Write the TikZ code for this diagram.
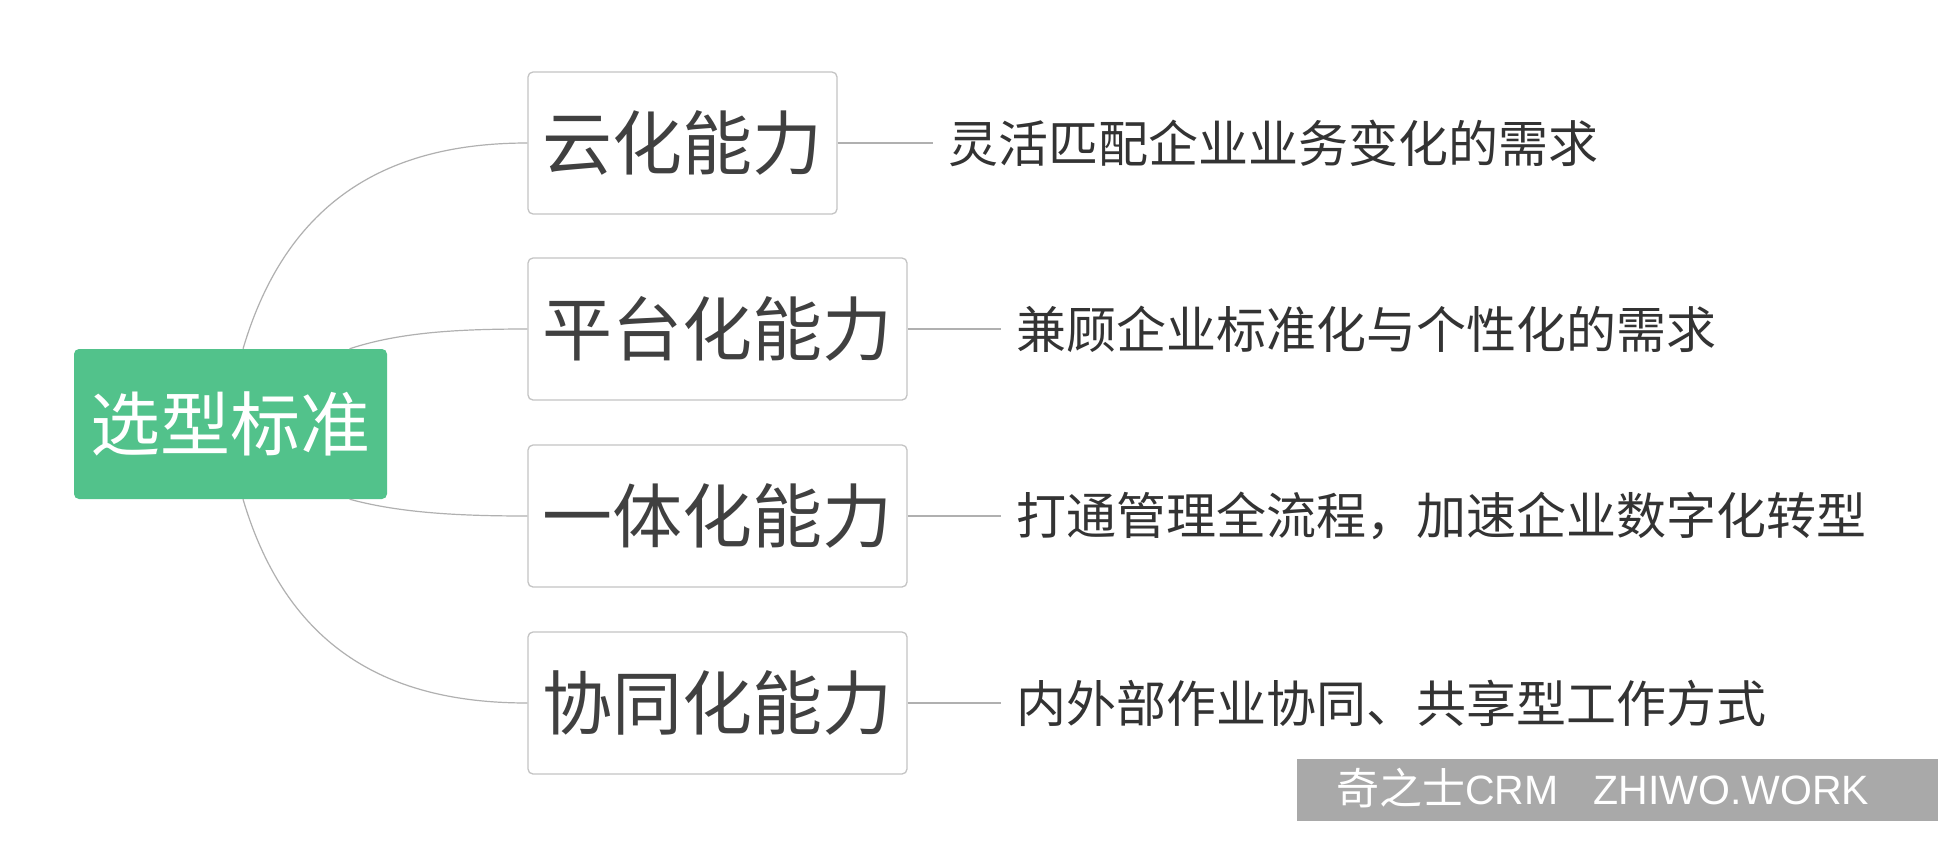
\documentclass[tikz,border=0pt]{standalone}
\usepackage{fontspec}
\usetikzlibrary{calc}
\setmainfont{Noto Sans CJK SC}
\newfontfamily\cjk{Noto Sans CJK SC}
\newfontfamily\wmlatin{Liberation Sans}
\begin{document}
\begin{tikzpicture}[x=1pt,y=-1pt,
  rootbox/.style={draw=none,fill=rootgreen,rounded corners=5pt,minimum width=313pt,minimum height=150pt,inner sep=0pt,text=white,font=\cjk\fontsize{70}{80}\selectfont},
  capbox/.style={draw=boxgray,line width=1.3pt,fill=white,rounded corners=5pt,minimum height=142pt,inner sep=0pt,text=labelgray,font=\cjk\fontsize{70}{80}\selectfont},
  desc/.style={anchor=west,inner xsep=15pt,inner ysep=0pt,text=desctext,font=\cjk\fontsize{50}{60}\selectfont},
  link/.style={draw=linegray,line width=1.2pt},
  wmark/.style={fill=markgray,draw=none}]
\definecolor{rootgreen}{HTML}{52C28B}
\definecolor{boxgray}{HTML}{C4C4C4}
\definecolor{labelgray}{HTML}{404040}
\definecolor{desctext}{HTML}{333333}
\definecolor{linegray}{HTML}{B0B0B0}
\definecolor{markgray}{HTML}{A9A9A9}
\useasboundingbox[fill=white] (0,0) rectangle (1938,844);

\node[rootbox] (root) at (230.5,424) {选型标准};
\node[capbox,minimum width=309pt] (b1) at (682.5,143) {云化能力};
\node[capbox,minimum width=379pt] (b2) at (717.5,329) {平台化能力};
\node[capbox,minimum width=379pt] (b3) at (717.5,516) {一体化能力};
\node[capbox,minimum width=379pt] (b4) at (717.5,703) {协同化能力};

\coordinate (s1) at ($(root.north west)!0.54!(root.north east)$);
\coordinate (s2) at ($(root.north west)!0.88!(root.north east)$);
\coordinate (s3) at ($(root.south west)!0.88!(root.south east)$);
\coordinate (s4) at ($(root.south west)!0.54!(root.south east)$);

\draw[link] (s1) .. controls (290,190) and (400,143) .. (b1.west);
\draw[link] (s2) .. controls (400,332) and (460,329) .. (b2.west);
\draw[link] (s3) .. controls (400,513) and (460,516) .. (b3.west);
\draw[link] (s4) .. controls (290,658) and (400,703) .. (b4.west);

\node[desc] (d1) at (933,143) {灵活匹配企业业务变化的需求};
\node[desc] (d2) at (1001,329) {兼顾企业标准化与个性化的需求};
\node[desc] (d3) at (1001,516) {打通管理全流程，加速企业数字化转型};
\node[desc] (d4) at (1001,703) {内外部作业协同、共享型工作方式};

\draw[link] (b1.east) -- (d1.west);
\draw[link] (b2.east) -- (d2.west);
\draw[link] (b3.east) -- (d3.west);
\draw[link] (b4.east) -- (d4.west);

\fill[wmark] (1297,759) rectangle (1938,821);
\node[anchor=base west,inner sep=0pt,text=white] (wm) at (1336,804) {{\cjk\fontsize{43}{50}\selectfont 奇之士}{\wmlatin\fontsize{41}{50}\selectfont CRM\hspace{35pt}ZHIWO.WORK}};
\end{tikzpicture}
\end{document}
